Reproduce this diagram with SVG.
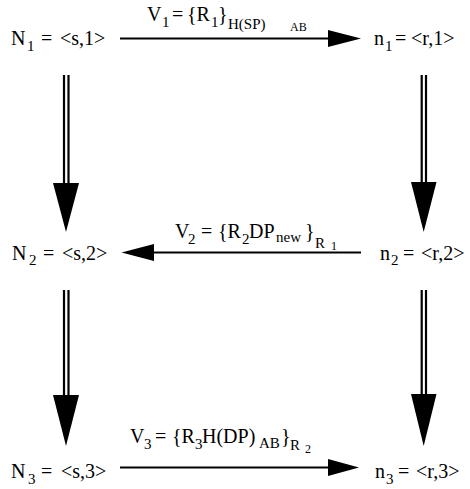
<svg xmlns="http://www.w3.org/2000/svg" width="470" height="489" viewBox="0 0 470 489">
<style>
.t{font-family:"Liberation Serif","Times New Roman",serif;font-size:20px;fill:#000}
.s{font-size:15px}
.ss{font-size:12px}
.sh{stroke:#000;stroke-width:2.2;fill:none}
.hd{fill:#000}
</style>
<rect width="470" height="489" fill="#fff"/>
<g id="connectors">
<g id="e-N1-n1"><line class="sh" x1="120" y1="38.5" x2="332" y2="38.5"/><polygon class="hd" points="328,30 361,38.5 328,47"/></g>
<g id="e-n2-N2"><line class="sh" x1="150" y1="252.5" x2="361" y2="252.5"/><polygon class="hd" points="154,244 121.5,252.5 154,261"/></g>
<g id="e-N3-n3"><line class="sh" x1="120" y1="467.5" x2="332" y2="467.5"/><polygon class="hd" points="328,459 359,467.5 328,476"/></g>
<g id="e-N1-N2"><line class="sh" x1="64" y1="75" x2="64" y2="184"/><line class="sh" x1="68.5" y1="75" x2="68.5" y2="184"/><polygon class="hd" points="53,183 79,183 66,232"/></g>
<g id="e-n1-n2"><line class="sh" x1="421.7" y1="75" x2="421.7" y2="184"/><line class="sh" x1="426" y1="75" x2="426" y2="184"/><polygon class="hd" points="411,182 436.5,182 423.7,232"/></g>
<g id="e-N2-N3"><line class="sh" x1="64" y1="290" x2="64" y2="396"/><line class="sh" x1="68.5" y1="290" x2="68.5" y2="396"/><polygon class="hd" points="53,395 79,395 66,446"/></g>
<g id="e-n2-n3"><line class="sh" x1="421.7" y1="290" x2="421.7" y2="396"/><line class="sh" x1="426" y1="290" x2="426" y2="396"/><polygon class="hd" points="411,394 436.5,394 423.7,446"/></g>
</g>
<g id="N1"><text class="t" y="45"><tspan x="11">N</tspan><tspan class="s" x="27" y="50.5">1</tspan><tspan x="41" y="45">=</tspan><tspan x="60">&lt;s,1&gt;</tspan></text></g>
<g id="n1"><text class="t" y="45"><tspan x="374">n</tspan><tspan class="s" x="385" y="50.5">1</tspan><tspan x="395" y="45">=</tspan><tspan x="411">&lt;r,1&gt;</tspan></text></g>
<g id="N2"><text class="t" y="259.5"><tspan x="12">N</tspan><tspan class="s" x="29" y="265">2</tspan><tspan x="43" y="259.5">=</tspan><tspan x="62">&lt;s,2&gt;</tspan></text></g>
<g id="n2"><text class="t" y="259.5"><tspan x="380">n</tspan><tspan class="s" x="391" y="265">2</tspan><tspan x="403" y="259.5">=</tspan><tspan x="421">&lt;r,2&gt;</tspan></text></g>
<g id="N3"><text class="t" y="478"><tspan x="11">N</tspan><tspan class="s" x="28" y="483.5">3</tspan><tspan x="41" y="478">=</tspan><tspan x="61">&lt;s,3&gt;</tspan></text></g>
<g id="n3"><text class="t" y="478"><tspan x="375">n</tspan><tspan class="s" x="386" y="483.5">3</tspan><tspan x="398" y="478">=</tspan><tspan x="416">&lt;r,3&gt;</tspan></text></g>
<g id="label-V1"><text class="t" y="21"><tspan x="147">V</tspan><tspan class="s" x="162" y="26.5">1</tspan><tspan x="172" y="21">=</tspan><tspan x="187">{R</tspan><tspan class="s" x="211" y="26.5">1</tspan><tspan x="218" y="21">}</tspan><tspan class="s" x="228" y="28.5">H(SP)</tspan><tspan class="ss" x="290" y="31">AB</tspan></text></g>
<g id="label-V2"><text class="t" y="238"><tspan x="175">V</tspan><tspan class="s" x="188" y="243.5">2</tspan><tspan x="201" y="238">=</tspan><tspan x="218">{R</tspan><tspan class="s" x="242" y="243.5">2</tspan><tspan x="249" y="238">DP</tspan><tspan class="s" x="276" y="242">new</tspan><tspan x="305" y="238">}</tspan><tspan class="s" x="315" y="247.5" font-size="17">R</tspan><tspan class="ss" x="331" y="250">1</tspan></text></g>
<g id="label-V3"><text class="t" y="443"><tspan x="130">V</tspan><tspan class="s" x="144" y="448.5">3</tspan><tspan x="155" y="443">=</tspan><tspan x="172">{R</tspan><tspan class="s" x="195" y="448.5">3</tspan><tspan x="202" y="443">H(DP)</tspan><tspan class="s" x="259" y="447.5">AB</tspan><tspan x="281" y="443">}</tspan><tspan class="s" x="290" y="450" font-size="17">R</tspan><tspan class="ss" x="305" y="453">2</tspan></text></g>
</svg>
